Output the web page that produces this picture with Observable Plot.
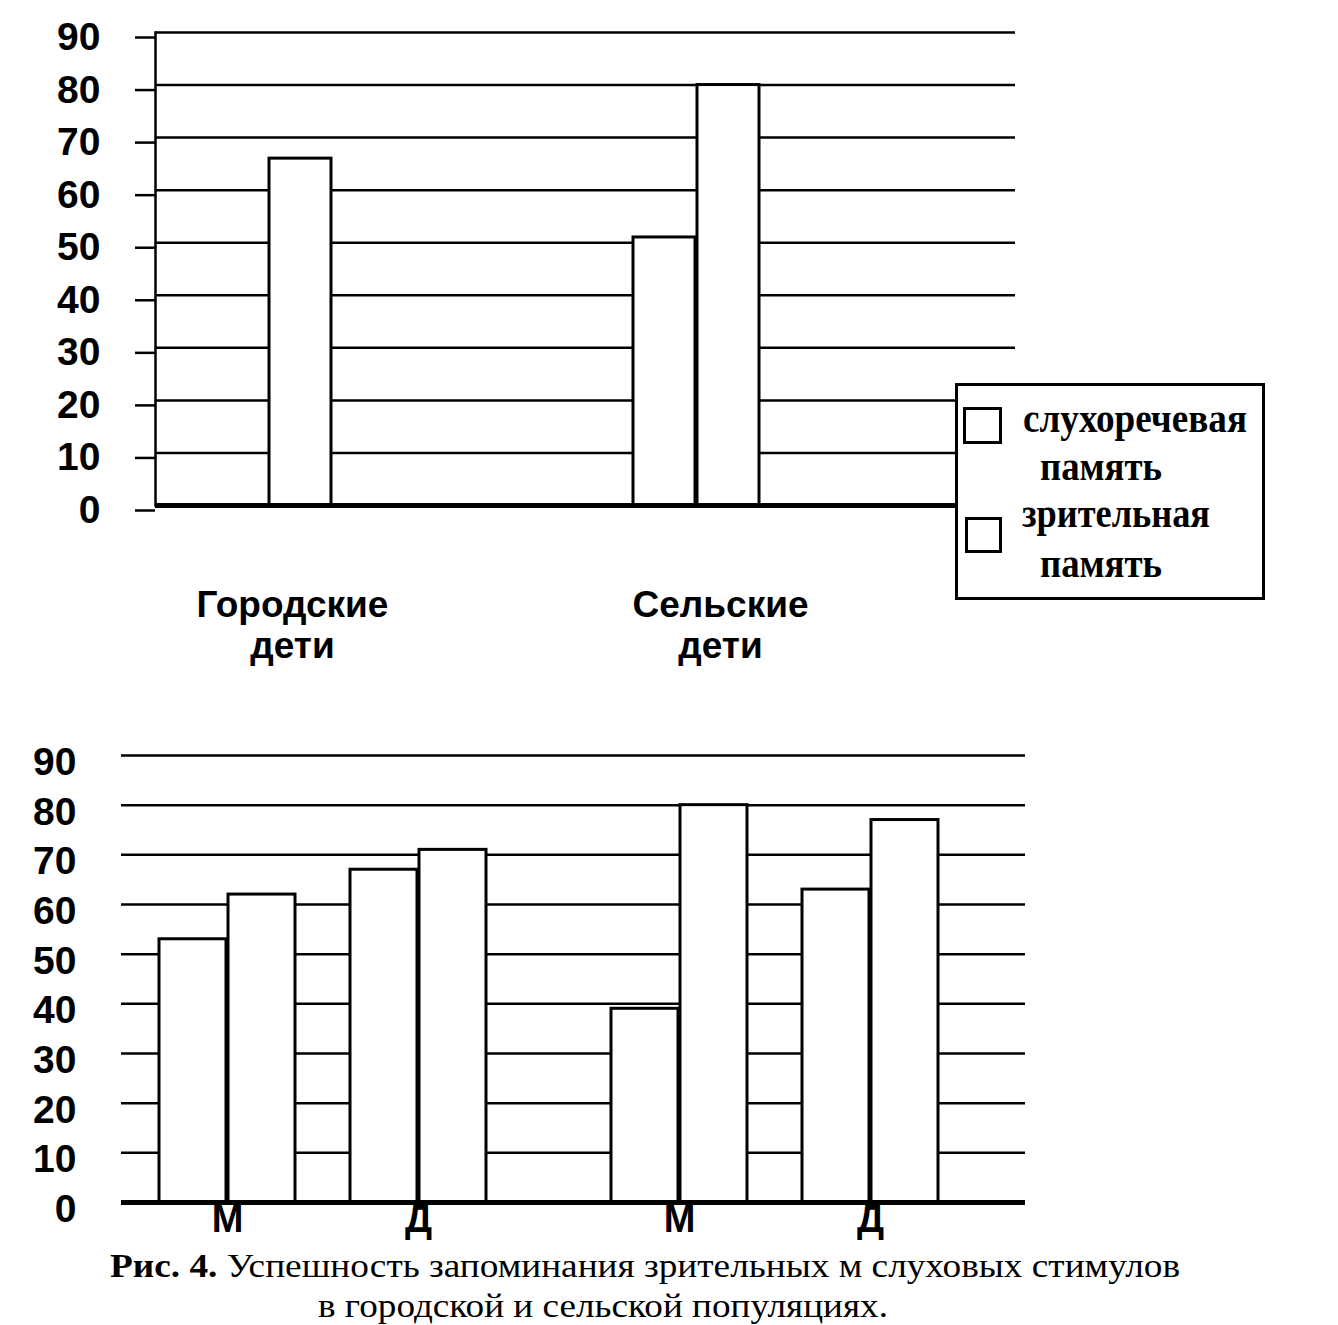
<!DOCTYPE html>
<html>
<head>
<meta charset="utf-8">
<script src="https://cdn.jsdelivr.net/npm/d3@7"></script>
<script src="https://cdn.jsdelivr.net/npm/@observablehq/plot@0.6"></script>
<style>
html, body { margin: 0; padding: 0; background: #fff; }
#root { position: relative; width: 1338px; height: 1325px; overflow: hidden; background: #fff; }
#top { position: absolute; left: 0; top: 0; }
#bottom { position: absolute; left: 0; top: 700px; }
#legend { position: absolute; left: 955px; top: 383px; width: 304px; height: 211px; border: 3px solid #000; background: #fff; }
.sw { position: absolute; background: #fff; border: 3px solid #000; box-sizing: border-box; }
.lt { position: absolute; font-family: "Liberation Serif", "Times New Roman", serif; font-weight: bold; font-size: 40px; line-height: 40px; white-space: nowrap; transform-origin: 0 0; color: #000; }
.cap { position: absolute; font-family: "Liberation Serif", "Times New Roman", serif; font-size: 34px; line-height: 34px; white-space: nowrap; transform-origin: 0 0; color: #000; }
</style>
</head>
<body>
<div id="root">
  <div id="top"></div>
  <div id="legend"></div>
  <div id="bottom"></div>
  <div class="cap" data-w="1070" style="left:110px; top:1249px;"><b>Рис. 4.</b> Успешность запоминания зрительных м слуховых стимулов</div>
  <div class="cap" data-w="570" style="left:318px; top:1289px;">в городской и сельской популяциях.</div>
</div>
<script>
// ---------- data ----------
const yTicks = [0, 10, 20, 30, 40, 50, 60, 70, 80, 90];
const memoryTypes = ["слухоречевая память", "зрительная память"];

// top chart
const topGroups = ["Городские дети", "Сельские дети"];
const topAuditory = [0, 51];
const topVisual = [66, 80];

// bottom chart
const bottomPops = ["Городские", "Сельские"];
const bottomSexes = ["М", "Д"];
const bottomPopOf = ["Городские", "Городские", "Сельские", "Сельские"];
const bottomSexOf = ["М", "Д", "М", "Д"];
const bottomAuditory = [53, 67, 39, 63];
const bottomVisual = [62, 71, 80, 77];

const topData = topGroups.map((g, i) => ({group: g, aud: topAuditory[i], vis: topVisual[i]}));
const bottomData = bottomPopOf.map((p, i) => ({pop: p, sex: bottomSexOf[i], aud: bottomAuditory[i], vis: bottomVisual[i]}));

const baseStyle = {background: "transparent", color: "#000", fontFamily: '"Liberation Sans", Arial, sans-serif', overflow: "visible"};
const barStyle = {fill: "#fff", stroke: "#000", strokeWidth: 3};

// ---------- top chart ----------
const topSvg = Plot.plot({
  width: 1030, height: 680,
  marginLeft: 155, marginRight: 15, marginTop: 32, marginBottom: 175,
  style: baseStyle,
  x: {domain: topGroups, paddingInner: 0.706, paddingOuter: 0.357, align: 0.163},
  y: {domain: [0, 90]},
  marks: [
    Plot.ruleY(yTicks, {stroke: "#000", strokeWidth: 2.5}),
    Plot.frame({anchor: "left", stroke: "#000", strokeWidth: 2.5}),
    Plot.barY(topData, {x: "group", y: "aud", insetRight: 64, ...barStyle}),
    Plot.barY(topData, {x: "group", y: "vis", insetLeft: 64, ...barStyle}),
    Plot.ruleY([0], {stroke: "#000", strokeWidth: 5}),
    Plot.axisY({ticks: yTicks, tickSize: 20, tickPadding: 35, strokeWidth: 2.5, fontSize: 39, fontWeight: "bold", dy: 5, label: null}),
    Plot.axisX({tickSize: 0, tickPadding: 82, fontSize: 37, fontWeight: "bold", lineHeight: 1.12, dx: 24, label: null,
      tickFormat: d => d.replace(" ", "\n")})
  ]
});
document.getElementById("top").appendChild(topSvg);

// ---------- bottom chart ----------
const bottomSvg = Plot.plot({
  width: 1040, height: 545,
  marginLeft: 120, marginRight: 15, marginTop: 55, marginBottom: 43,
  style: baseStyle,
  fx: {domain: bottomPops, padding: 0, axis: null},
  x: {domain: bottomSexes, paddingInner: 0.29, paddingOuter: 0.323, align: 0.3},
  y: {domain: [0, 90]},
  marks: [
    Plot.ruleY(yTicks, {stroke: "#000", strokeWidth: 2.5}),
    Plot.barY(bottomData, {fx: "pop", x: "sex", y: "aud", insetRight: 69, ...barStyle}),
    Plot.barY(bottomData, {fx: "pop", x: "sex", y: "vis", insetLeft: 69, ...barStyle}),
    Plot.ruleY([0], {stroke: "#000", strokeWidth: 5}),
    Plot.axisY({ticks: yTicks, tickSize: 0, tickPadding: 45, fontSize: 39, fontWeight: "bold", dy: 7, label: null}),
    Plot.axisX({tickSize: 0, tickPadding: 3, fontSize: 38, fontWeight: "bold", label: null})
  ]
});
document.getElementById("bottom").appendChild(bottomSvg);

// ---------- legend ----------
const legend = document.getElementById("legend");
const swatchBoxes = [[5, 21, 39, 37], [7, 131, 37, 36]];
const textSpots = [[[65, 12.5, 224], [82, 60.5, 122]], [[64, 107.5, 188], [82, 157.5, 122]]];
memoryTypes.forEach((name, i) => {
  const sw = document.createElement("div");
  sw.className = "sw";
  const [l, t, w, h] = swatchBoxes[i];
  Object.assign(sw.style, {left: l + "px", top: t + "px", width: w + "px", height: h + "px"});
  legend.appendChild(sw);
  name.split(" ").forEach((word, j) => {
    const el = document.createElement("div");
    el.className = "lt";
    el.textContent = word;
    const [x, y, tw] = textSpots[i][j];
    el.style.left = x + "px";
    el.style.top = y + "px";
    el.dataset.w = tw;
    legend.appendChild(el);
  });
});

// fit text widths to the reference layout
document.querySelectorAll("[data-w]").forEach(el => {
  const w = el.getBoundingClientRect().width;
  if (w > 0) el.style.transform = `scaleX(${(+el.dataset.w) / w})`;
});
</script>
</body>
</html>
